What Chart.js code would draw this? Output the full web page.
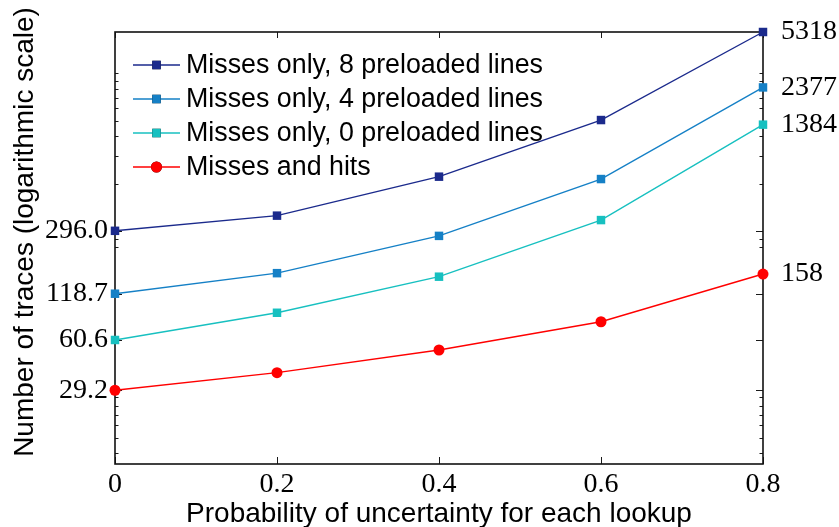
<!DOCTYPE html>
<html>
<head>
<meta charset="utf-8">
<script src="https://cdn.jsdelivr.net/npm/chart.js@4/dist/chart.umd.min.js"></script>
<style>
  html, body { margin: 0; padding: 0; background: #ffffff; }
  #wrap { width: 839px; height: 527px; }
</style>
</head>
<body>
<div id="wrap"><canvas id="c" width="839" height="527"></canvas></div>
<script>
// Probability of uncertainty per lookup
const categories = [0, 0.2, 0.4, 0.6, 0.8];

// Number of traces per configuration
const preload8   = [296.0, 369, 650, 1480, 5318];
const preload4   = [118.7, 160, 275, 628, 2377];
const preload0   = [60.6, 90, 152, 346, 1384];
const missesHits = [29.2, 37.7, 52.4, 79, 158];

const seriesNames = [
  'Misses only, 8 preloaded lines',
  'Misses only, 4 preloaded lines',
  'Misses only, 0 preloaded lines',
  'Misses and hits'
];

// Labelled ticks: starting values on the left, final values on the right
const leftTickValues  = [29.2, 60.6, 118.7, 296.0];
const leftTickLabels  = ['29.2', '60.6', '118.7', '296.0'];
const rightTickValues = [158, 1384, 2377, 5318];
const rightTickLabels = ['158', '1384', '2377', '5318'];
const xTickValues     = [0, 0.2, 0.4, 0.6, 0.8];
const xTickLabels     = ['0', '0.2', '0.4', '0.6', '0.8'];

// Unlabelled minor ticks along the log axis
const minorTickValues = [11.68, 14.6, 17.52, 20.44, 23.36, 26.28,
                         233.6, 262.8,
                         584, 876, 1168, 1460, 1752, 2044, 2336, 2628, 2920];

const Y_MIN = 10, Y_MAX = 5318;

const SERIF = '"Liberation Serif", "DejaVu Serif", serif';
const SANS  = '"Liberation Sans", Arial, sans-serif';

function toPoints(vals) {
  return categories.map((x, i) => ({ x: x, y: vals[i] }));
}

function series(label, vals, color, style, radius) {
  return {
    label: label,
    data: toPoints(vals),
    borderColor: color,
    backgroundColor: color,
    borderWidth: 1.4,
    pointStyle: style,
    pointRadius: radius,
    pointHoverRadius: radius,
    pointBorderWidth: 0,
    pointBackgroundColor: color,
    tension: 0,
    clip: false
  };
}

// Scales keep no extra edge padding, so the plot box sits where the layout puts it
function noEdgePadding(s) {
  s.paddingTop = 0; s.paddingBottom = 0;
  s.paddingLeft = 0; s.paddingRight = 0;
}

// Box frame with inward-pointing ticks on all four sides
const frameTicks = {
  id: 'frameTicks',
  beforeDatasetsDraw(chart) {
    const { ctx, chartArea: a, scales } = chart;
    const y = scales.y, x = scales.x;
    ctx.save();
    ctx.strokeStyle = '#1a1a1a';
    ctx.lineWidth = 1;
    ctx.beginPath();
    leftTickValues.forEach(v => {
      const py = Math.round(y.getPixelForValue(v)) + 0.5;
      ctx.moveTo(a.left, py); ctx.lineTo(a.left + 7, py);
      ctx.moveTo(a.right, py); ctx.lineTo(a.right - 7, py);
    });
    minorTickValues.forEach(v => {
      const py = Math.round(y.getPixelForValue(v)) + 0.5;
      ctx.moveTo(a.left, py); ctx.lineTo(a.left + 3.5, py);
      ctx.moveTo(a.right, py); ctx.lineTo(a.right - 3.5, py);
    });
    xTickValues.forEach(v => {
      const px = Math.round(x.getPixelForValue(v)) + 0.5;
      ctx.moveTo(px, a.bottom); ctx.lineTo(px, a.bottom - 7);
      ctx.moveTo(px, a.top); ctx.lineTo(px, a.top + 6);
    });
    ctx.stroke();
    ctx.lineWidth = 1.6;
    ctx.strokeStyle = '#111';
    ctx.strokeRect(a.left, a.top, a.right - a.left, a.bottom - a.top);
    ctx.restore();
  }
};

// Axis titles and in-plot legend
const annotations = {
  id: 'annotations',
  afterDraw(chart) {
    const { ctx } = chart;
    ctx.save();
    ctx.fillStyle = '#000';
    ctx.font = '28px ' + SANS;
    ctx.textAlign = 'center';
    ctx.textBaseline = 'alphabetic';
    ctx.fillText('Probability of uncertainty for each lookup', 439, 522);

    ctx.save();
    ctx.translate(33, 232);
    ctx.rotate(-Math.PI / 2);
    ctx.fillText('Number of traces (logarithmic scale)', 0, 0);
    ctx.restore();

    ctx.font = '26.8px ' + SANS;
    const rows = [65, 99, 133, 167];
    chart.data.datasets.forEach((ds, i) => {
      const ry = rows[i];
      ctx.strokeStyle = ds.borderColor;
      ctx.lineWidth = 1.4;
      ctx.beginPath();
      ctx.moveTo(133, ry); ctx.lineTo(180, ry);
      ctx.stroke();
      Chart.helpers.drawPoint(ctx, {
        pointStyle: ds.pointStyle, radius: ds.pointRadius, rotation: 0, borderWidth: 0
      }, 156.5, ry);
      ctx.fillStyle = ds.backgroundColor;
      ctx.fill();
      ctx.fillStyle = '#000';
      ctx.textAlign = 'left';
      ctx.textBaseline = 'middle';
      ctx.fillText(ds.label, 186, ry + 1);
    });
    ctx.restore();
  }
};

new Chart(document.getElementById('c'), {
  type: 'line',
  data: {
    datasets: [
      series(seriesNames[0], preload8,   '#1b2a8c', 'rect', 6),
      series(seriesNames[1], preload4,   '#1580c6', 'rect', 6),
      series(seriesNames[2], preload0,   '#17c0c0', 'rect', 6),
      series(seriesNames[3], missesHits, '#ff0000', 'circle', 5.5)
    ]
  },
  options: {
    responsive: false,
    devicePixelRatio: 1,
    animation: false,
    layout: { padding: { top: 32, left: 0, right: 0, bottom: 0 } },
    plugins: { legend: { display: false }, tooltip: { enabled: false } },
    scales: {
      x: {
        type: 'linear',
        min: 0, max: 0.8,
        afterBuildTicks(s) { s.ticks = xTickValues.map(v => ({ value: v })); },
        afterFit(s) { s.height = 63; noEdgePadding(s); },
        grid: { display: false, drawTicks: false },
        border: { display: false },
        ticks: {
          autoSkip: false, maxRotation: 0, padding: 4,
          color: '#000', font: { family: SERIF, size: 28 },
          callback: (v, i) => xTickLabels[i]
        }
      },
      y: {
        type: 'logarithmic',
        position: 'left',
        min: Y_MIN, max: Y_MAX,
        afterBuildTicks(s) { s.ticks = leftTickValues.map(v => ({ value: v })); },
        afterFit(s) { s.width = 115; noEdgePadding(s); },
        grid: { display: false, drawTicks: false },
        border: { display: false },
        ticks: {
          autoSkip: false, padding: 7,
          color: '#000', font: { family: SERIF, size: 28 },
          callback: (v, i) => leftTickLabels[i]
        }
      },
      y2: {
        type: 'logarithmic',
        position: 'right',
        min: Y_MIN, max: Y_MAX,
        afterBuildTicks(s) { s.ticks = rightTickValues.map(v => ({ value: v })); },
        afterFit(s) { s.width = 76; noEdgePadding(s); },
        grid: { display: false, drawTicks: false },
        border: { display: false },
        ticks: {
          autoSkip: false, padding: 18,
          color: '#000', font: { family: SERIF, size: 28 },
          callback: (v, i) => rightTickLabels[i]
        }
      }
    }
  },
  plugins: [frameTicks, annotations]
});
</script>
</body>
</html>
